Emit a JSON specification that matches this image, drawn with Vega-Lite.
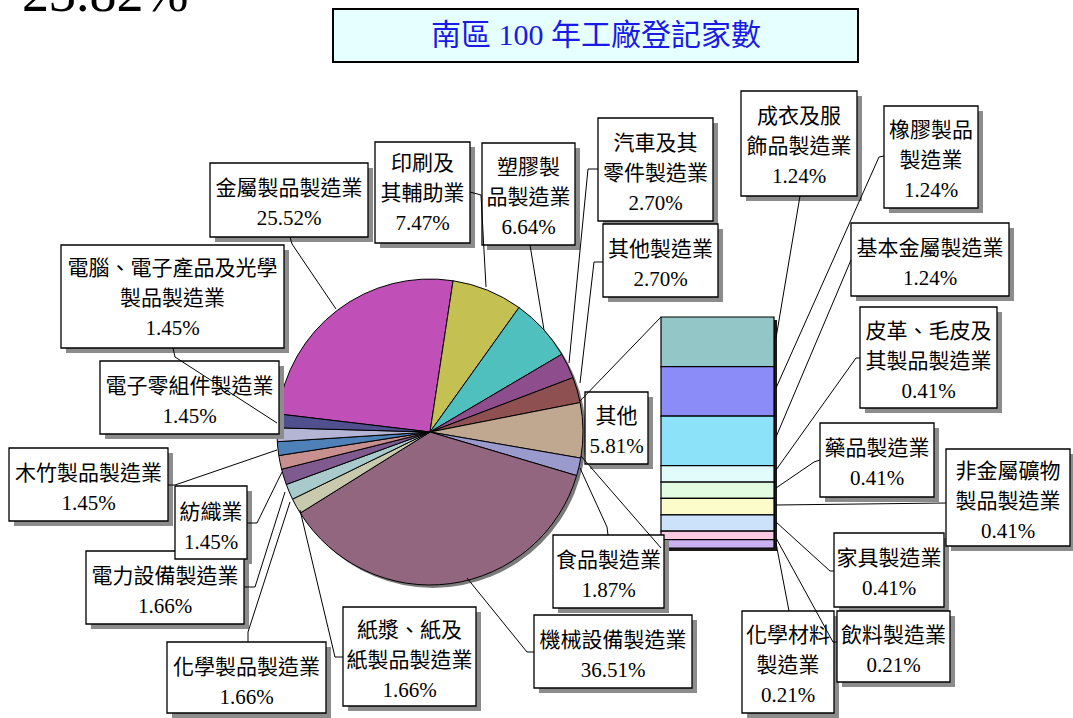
{
  "$schema": "https://vega.github.io/schema/vega-lite/v6.json",
  "width": 1073,
  "height": 718,
  "autosize": {"type": "none"},
  "padding": 0,
  "background": "white",
  "config": {"view": {"stroke": null}, "axis": {"disable": true}, "legend": {"disable": true}},
  "datasets": {
    "pie": [
      {"name": "金屬製品製造業", "pct": 25.52, "ord": 1},
      {"name": "印刷及其輔助業", "pct": 7.47, "ord": 2},
      {"name": "塑膠製品製造業", "pct": 6.64, "ord": 3},
      {"name": "汽車及其零件製造業", "pct": 2.70, "ord": 4},
      {"name": "其他製造業", "pct": 2.70, "ord": 5},
      {"name": "其他", "pct": 5.81, "ord": 6},
      {"name": "食品製造業", "pct": 1.87, "ord": 7},
      {"name": "機械設備製造業", "pct": 36.51, "ord": 8},
      {"name": "紙漿、紙及紙製品製造業", "pct": 1.66, "ord": 9},
      {"name": "化學製品製造業", "pct": 1.66, "ord": 10},
      {"name": "電力設備製造業", "pct": 1.66, "ord": 11},
      {"name": "紡織業", "pct": 1.45, "ord": 12},
      {"name": "木竹製品製造業", "pct": 1.45, "ord": 13},
      {"name": "電子零組件製造業", "pct": 1.45, "ord": 14},
      {"name": "電腦、電子產品及光學製品製造業", "pct": 1.45, "ord": 15}
    ],
    "bar": [
      {"name": "成衣及服飾品製造業", "pct": 1.24, "ord": 1},
      {"name": "橡膠製品製造業", "pct": 1.24, "ord": 2},
      {"name": "基本金屬製造業", "pct": 1.24, "ord": 3},
      {"name": "皮革、毛皮及其製品製造業", "pct": 0.41, "ord": 4},
      {"name": "藥品製造業", "pct": 0.41, "ord": 5},
      {"name": "非金屬礦物製品製造業", "pct": 0.41, "ord": 6},
      {"name": "家具製造業", "pct": 0.41, "ord": 7},
      {"name": "飲料製造業", "pct": 0.21, "ord": 8},
      {"name": "化學材料製造業", "pct": 0.21, "ord": 9}
    ],
    "labels": [
      {"t": "金屬製品製造業\n25.52%", "x1": 210, "y1": 163, "x2": 368, "y2": 237, "tx": 289, "ty": 195},
      {"t": "印刷及\n其輔助業\n7.47%", "x1": 375, "y1": 142, "x2": 470, "y2": 243, "tx": 422.5, "ty": 170},
      {"t": "塑膠製\n品製造業\n6.64%", "x1": 482, "y1": 143, "x2": 575, "y2": 245, "tx": 528.5, "ty": 174},
      {"t": "汽車及其\n零件製造業\n2.70%", "x1": 598, "y1": 118, "x2": 713, "y2": 221, "tx": 655.5, "ty": 149.5},
      {"t": "其他製造業\n2.70%", "x1": 603, "y1": 224, "x2": 718, "y2": 297, "tx": 660.5, "ty": 256},
      {"t": "其他\n5.81%", "x1": 585, "y1": 392, "x2": 648, "y2": 464, "tx": 616.5, "ty": 423},
      {"t": "食品製造業\n1.87%", "x1": 553, "y1": 535, "x2": 664, "y2": 608, "tx": 608.5, "ty": 567},
      {"t": "機械設備製造業\n36.51%", "x1": 534, "y1": 615, "x2": 692, "y2": 688, "tx": 613, "ty": 647},
      {"t": "紙漿、紙及\n紙製品製造業\n1.66%", "x1": 343, "y1": 607, "x2": 476, "y2": 706, "tx": 409.5, "ty": 637},
      {"t": "化學製品製造業\n1.66%", "x1": 167, "y1": 642, "x2": 326, "y2": 713, "tx": 246.5, "ty": 674},
      {"t": "電力設備製造業\n1.66%", "x1": 86, "y1": 551, "x2": 244, "y2": 624, "tx": 165, "ty": 582.5},
      {"t": "紡織業\n1.45%", "x1": 175, "y1": 486, "x2": 247, "y2": 559, "tx": 211, "ty": 518.5},
      {"t": "木竹製品製造業\n1.45%", "x1": 9, "y1": 448, "x2": 168, "y2": 521, "tx": 88.5, "ty": 480},
      {"t": "電子零組件製造業\n1.45%", "x1": 100, "y1": 361, "x2": 279, "y2": 434, "tx": 189.5, "ty": 392.5},
      {"t": "電腦、電子產品及光學\n製品製造業\n1.45%", "x1": 61, "y1": 245, "x2": 284, "y2": 348, "tx": 172.5, "ty": 275},
      {"t": "成衣及服\n飾品製造業\n1.24%", "x1": 741, "y1": 91, "x2": 857, "y2": 196, "tx": 799, "ty": 122.5},
      {"t": "橡膠製品\n製造業\n1.24%", "x1": 884, "y1": 106, "x2": 978, "y2": 208, "tx": 931, "ty": 137},
      {"t": "基本金屬製造業\n1.24%", "x1": 851, "y1": 223, "x2": 1009, "y2": 296, "tx": 930, "ty": 254.5},
      {"t": "皮革、毛皮及\n其製品製造業\n0.41%", "x1": 860, "y1": 307, "x2": 997, "y2": 408, "tx": 928.5, "ty": 337.5},
      {"t": "藥品製造業\n0.41%", "x1": 820, "y1": 423, "x2": 934, "y2": 497, "tx": 877, "ty": 455},
      {"t": "非金屬礦物\n製品製造業\n0.41%", "x1": 946, "y1": 449, "x2": 1070, "y2": 546, "tx": 1008, "ty": 477.5},
      {"t": "家具製造業\n0.41%", "x1": 834, "y1": 533, "x2": 944, "y2": 607, "tx": 889, "ty": 565},
      {"t": "飲料製造業\n0.21%", "x1": 837, "y1": 611, "x2": 950, "y2": 682, "tx": 893.5, "ty": 641.5},
      {"t": "化學材料\n製造業\n0.21%", "x1": 742, "y1": 611, "x2": 834, "y2": 713, "tx": 788, "ty": 642}
    ],
    "leaders": [
      {"id": 1, "i": 1, "x": 290, "y": 237}, {"id": 1, "i": 2, "x": 292, "y": 244}, {"id": 1, "i": 3, "x": 336, "y": 309},
      {"id": 2, "i": 1, "x": 470, "y": 192}, {"id": 2, "i": 2, "x": 481, "y": 195}, {"id": 2, "i": 3, "x": 486, "y": 287},
      {"id": 3, "i": 1, "x": 530, "y": 245}, {"id": 3, "i": 2, "x": 544, "y": 330},
      {"id": 4, "i": 1, "x": 598, "y": 169}, {"id": 4, "i": 2, "x": 588, "y": 169}, {"id": 4, "i": 3, "x": 569, "y": 363},
      {"id": 5, "i": 1, "x": 603, "y": 262}, {"id": 5, "i": 2, "x": 594, "y": 262}, {"id": 5, "i": 3, "x": 580, "y": 383},
      {"id": 6, "i": 1, "x": 608, "y": 535}, {"id": 6, "i": 2, "x": 607, "y": 527}, {"id": 6, "i": 3, "x": 580, "y": 468},
      {"id": 7, "i": 1, "x": 534, "y": 652}, {"id": 7, "i": 2, "x": 527, "y": 652}, {"id": 7, "i": 3, "x": 467, "y": 578},
      {"id": 8, "i": 1, "x": 343, "y": 657}, {"id": 8, "i": 2, "x": 335, "y": 657}, {"id": 8, "i": 3, "x": 300, "y": 510},
      {"id": 9, "i": 1, "x": 248, "y": 642}, {"id": 9, "i": 2, "x": 248, "y": 632}, {"id": 9, "i": 3, "x": 290, "y": 502},
      {"id": 10, "i": 1, "x": 244, "y": 587}, {"id": 10, "i": 2, "x": 255, "y": 587}, {"id": 10, "i": 3, "x": 285, "y": 492},
      {"id": 11, "i": 1, "x": 247, "y": 523}, {"id": 11, "i": 2, "x": 257, "y": 523}, {"id": 11, "i": 3, "x": 282, "y": 472},
      {"id": 12, "i": 1, "x": 168, "y": 485}, {"id": 12, "i": 2, "x": 175, "y": 485}, {"id": 12, "i": 3, "x": 277, "y": 450},
      {"id": 13, "i": 1, "x": 173, "y": 348}, {"id": 13, "i": 2, "x": 175, "y": 357}, {"id": 13, "i": 3, "x": 277, "y": 423},
      {"id": 14, "i": 1, "x": 800, "y": 196}, {"id": 14, "i": 2, "x": 776, "y": 338},
      {"id": 15, "i": 1, "x": 884, "y": 156}, {"id": 15, "i": 2, "x": 879, "y": 157}, {"id": 15, "i": 3, "x": 776, "y": 388},
      {"id": 16, "i": 1, "x": 851, "y": 260}, {"id": 16, "i": 2, "x": 776, "y": 437},
      {"id": 17, "i": 1, "x": 860, "y": 358}, {"id": 17, "i": 2, "x": 856, "y": 358}, {"id": 17, "i": 3, "x": 776, "y": 470},
      {"id": 18, "i": 1, "x": 820, "y": 460}, {"id": 18, "i": 2, "x": 814, "y": 462}, {"id": 18, "i": 3, "x": 776, "y": 488},
      {"id": 19, "i": 1, "x": 946, "y": 503}, {"id": 19, "i": 2, "x": 776, "y": 505},
      {"id": 20, "i": 1, "x": 776, "y": 522}, {"id": 20, "i": 2, "x": 830, "y": 571}, {"id": 20, "i": 3, "x": 834, "y": 571},
      {"id": 21, "i": 1, "x": 776, "y": 538}, {"id": 21, "i": 2, "x": 833, "y": 642}, {"id": 21, "i": 3, "x": 837, "y": 642},
      {"id": 22, "i": 1, "x": 776, "y": 543}, {"id": 22, "i": 2, "x": 789, "y": 611},
      {"id": 23, "i": 1, "x": 580, "y": 401}, {"id": 23, "i": 2, "x": 661, "y": 317},
      {"id": 24, "i": 1, "x": 581, "y": 456}, {"id": 24, "i": 2, "x": 661, "y": 548}
    ]
  },
  "resolve": {"scale": {"y": "independent"}},
  "layer": [
    {
      "layer": [
        {
          "data": {"values": [{}]},
          "mark": {"type": "arc", "outerRadius": 153, "theta": 0, "theta2": 6.2832, "fill": "#7a7a7a"},
          "encoding": {
            "x": {"datum": 433, "type": "quantitative", "scale": {"domain": [0, 1073], "nice": false, "zero": false}},
            "y": {"datum": 435, "type": "quantitative", "scale": {"domain": [0, 718], "nice": false, "zero": false, "reverse": true}}
          }
        },
        {
          "data": {"name": "pie"},
          "mark": {"type": "arc", "outerRadius": 153, "stroke": "#000000", "strokeWidth": 1},
          "encoding": {
            "theta": {"field": "pct", "type": "quantitative", "stack": true, "scale": {"range": [-1.4521, 4.8311]}},
            "order": {"field": "ord", "type": "quantitative"},
            "color": {
              "field": "name", "type": "nominal", "legend": null,
              "scale": {
                "domain": ["金屬製品製造業", "印刷及其輔助業", "塑膠製品製造業", "汽車及其零件製造業", "其他製造業", "其他", "食品製造業", "機械設備製造業", "紙漿、紙及紙製品製造業", "化學製品製造業", "電力設備製造業", "紡織業", "木竹製品製造業", "電子零組件製造業", "電腦、電子產品及光學製品製造業", "成衣及服飾品製造業", "橡膠製品製造業", "基本金屬製造業", "皮革、毛皮及其製品製造業", "藥品製造業", "非金屬礦物製品製造業", "家具製造業", "飲料製造業", "化學材料製造業"],
                "range": ["#C050B8", "#C4C052", "#50C0BE", "#8E4E8E", "#8E5050", "#C0A890", "#9A9ACC", "#936680", "#C9C9AE", "#A8CACA", "#7E5A8E", "#C88F8F", "#4F81B9", "#B4B4D4", "#50508E", "#93C6C6", "#8C8CF8", "#8CE2F8", "#E2FCFC", "#E2FCE2", "#FCFCCA", "#CCE2FA", "#FACAE2", "#CAB2F0"]
              }
            },
            "x": {"datum": 430, "type": "quantitative", "scale": {"domain": [0, 1073], "nice": false, "zero": false}},
            "y": {"datum": 432, "type": "quantitative", "scale": {"domain": [0, 718], "nice": false, "zero": false, "reverse": true}}
          }
        },
        {
          "data": {"values": [{}]},
          "mark": {"type": "rect", "fill": "#1a1a1a"},
          "encoding": {
            "x": {"datum": 664, "type": "quantitative", "scale": {"domain": [0, 1073], "nice": false, "zero": false}},
            "x2": {"datum": 777},
            "y": {"datum": 320, "type": "quantitative", "scale": {"domain": [0, 718], "nice": false, "zero": false, "reverse": true}},
            "y2": {"datum": 551}
          }
        }
      ]
    },
    {
      "data": {"name": "bar"},
      "transform": [
        {"stack": "pct", "groupby": [], "sort": [{"field": "ord", "order": "ascending"}], "as": ["s0", "s1"]}
      ],
      "mark": {"type": "rect", "stroke": "#000000", "strokeWidth": 1.2},
      "encoding": {
        "x": {"datum": 661, "type": "quantitative", "scale": {"domain": [0, 1073], "nice": false, "zero": false}},
        "x2": {"datum": 774},
        "y": {"field": "s0", "type": "quantitative", "scale": {"domain": [-7.932, 10.034], "nice": false, "zero": false, "reverse": true}},
        "y2": {"field": "s1"},
        "color": {
          "field": "name", "type": "nominal", "legend": null,
          "scale": {
            "domain": ["金屬製品製造業", "印刷及其輔助業", "塑膠製品製造業", "汽車及其零件製造業", "其他製造業", "其他", "食品製造業", "機械設備製造業", "紙漿、紙及紙製品製造業", "化學製品製造業", "電力設備製造業", "紡織業", "木竹製品製造業", "電子零組件製造業", "電腦、電子產品及光學製品製造業", "成衣及服飾品製造業", "橡膠製品製造業", "基本金屬製造業", "皮革、毛皮及其製品製造業", "藥品製造業", "非金屬礦物製品製造業", "家具製造業", "飲料製造業", "化學材料製造業"],
            "range": ["#C050B8", "#C4C052", "#50C0BE", "#8E4E8E", "#8E5050", "#C0A890", "#9A9ACC", "#936680", "#C9C9AE", "#A8CACA", "#7E5A8E", "#C88F8F", "#4F81B9", "#B4B4D4", "#50508E", "#93C6C6", "#8C8CF8", "#8CE2F8", "#E2FCFC", "#E2FCE2", "#FCFCCA", "#CCE2FA", "#FACAE2", "#CAB2F0"]
          }
        }
      }
    },
    {
      "layer": [
        {
          "data": {"name": "labels"},
          "mark": {"type": "rect", "fill": "#8c8c8c", "xOffset": 5, "x2Offset": 5, "yOffset": 5, "y2Offset": 5},
          "encoding": {
            "x": {"field": "x1", "type": "quantitative", "scale": {"domain": [0, 1073], "nice": false, "zero": false}},
            "x2": {"field": "x2"},
            "y": {"field": "y1", "type": "quantitative", "scale": {"domain": [0, 718], "nice": false, "zero": false, "reverse": true}},
            "y2": {"field": "y2"}
          }
        },
        {
          "data": {"name": "labels"},
          "mark": {"type": "rect", "fill": "#ffffff", "stroke": "#000000", "strokeWidth": 1.3},
          "encoding": {
            "x": {"field": "x1", "type": "quantitative", "scale": {"domain": [0, 1073], "nice": false, "zero": false}},
            "x2": {"field": "x2"},
            "y": {"field": "y1", "type": "quantitative", "scale": {"domain": [0, 718], "nice": false, "zero": false, "reverse": true}},
            "y2": {"field": "y2"}
          }
        },
        {
          "data": {"values": [{}]},
          "mark": {"type": "rect", "fill": "#E6FFFF", "stroke": "#000000", "strokeWidth": 2},
          "encoding": {
            "x": {"datum": 333, "type": "quantitative", "scale": {"domain": [0, 1073], "nice": false, "zero": false}},
            "x2": {"datum": 858},
            "y": {"datum": 9, "type": "quantitative", "scale": {"domain": [0, 718], "nice": false, "zero": false, "reverse": true}},
            "y2": {"datum": 62}
          }
        },
        {
          "data": {"values": [{}]},
          "mark": {"type": "text", "text": "南區 100 年工廠登記家數", "font": "Liberation Serif, Noto Sans CJK TC", "fontSize": 30, "fill": "#1a1ae6", "align": "center", "baseline": "middle"},
          "encoding": {
            "x": {"datum": 596, "type": "quantitative", "scale": {"domain": [0, 1073], "nice": false, "zero": false}},
            "y": {"datum": 36, "type": "quantitative", "scale": {"domain": [0, 718], "nice": false, "zero": false, "reverse": true}}
          }
        },
        {
          "data": {"values": [{}]},
          "mark": {"type": "text", "text": "23.82%", "font": "Liberation Serif", "fontSize": 54, "fill": "#000000", "align": "left", "baseline": "alphabetic"},
          "encoding": {
            "x": {"datum": 22, "type": "quantitative", "scale": {"domain": [0, 1073], "nice": false, "zero": false}},
            "y": {"datum": 11, "type": "quantitative", "scale": {"domain": [0, 718], "nice": false, "zero": false, "reverse": true}}
          }
        },
        {
          "data": {"name": "labels"},
          "mark": {"type": "text", "font": "Liberation Serif, Noto Sans CJK TC", "fontSize": 21, "lineBreak": "\n", "lineHeight": 30, "align": "center", "baseline": "alphabetic", "fill": "#000000"},
          "encoding": {
            "x": {"field": "tx", "type": "quantitative", "scale": {"domain": [0, 1073], "nice": false, "zero": false}},
            "y": {"field": "ty", "type": "quantitative", "scale": {"domain": [0, 718], "nice": false, "zero": false, "reverse": true}},
            "text": {"field": "t", "type": "nominal"}
          }
        },
        {
          "data": {"name": "leaders"},
          "mark": {"type": "line", "stroke": "#000000", "strokeWidth": 1},
          "encoding": {
            "x": {"field": "x", "type": "quantitative", "scale": {"domain": [0, 1073], "nice": false, "zero": false}},
            "y": {"field": "y", "type": "quantitative", "scale": {"domain": [0, 718], "nice": false, "zero": false, "reverse": true}},
            "detail": {"field": "id", "type": "nominal"},
            "order": {"field": "i", "type": "quantitative"}
          }
        }
      ]
    }
  ]
}
